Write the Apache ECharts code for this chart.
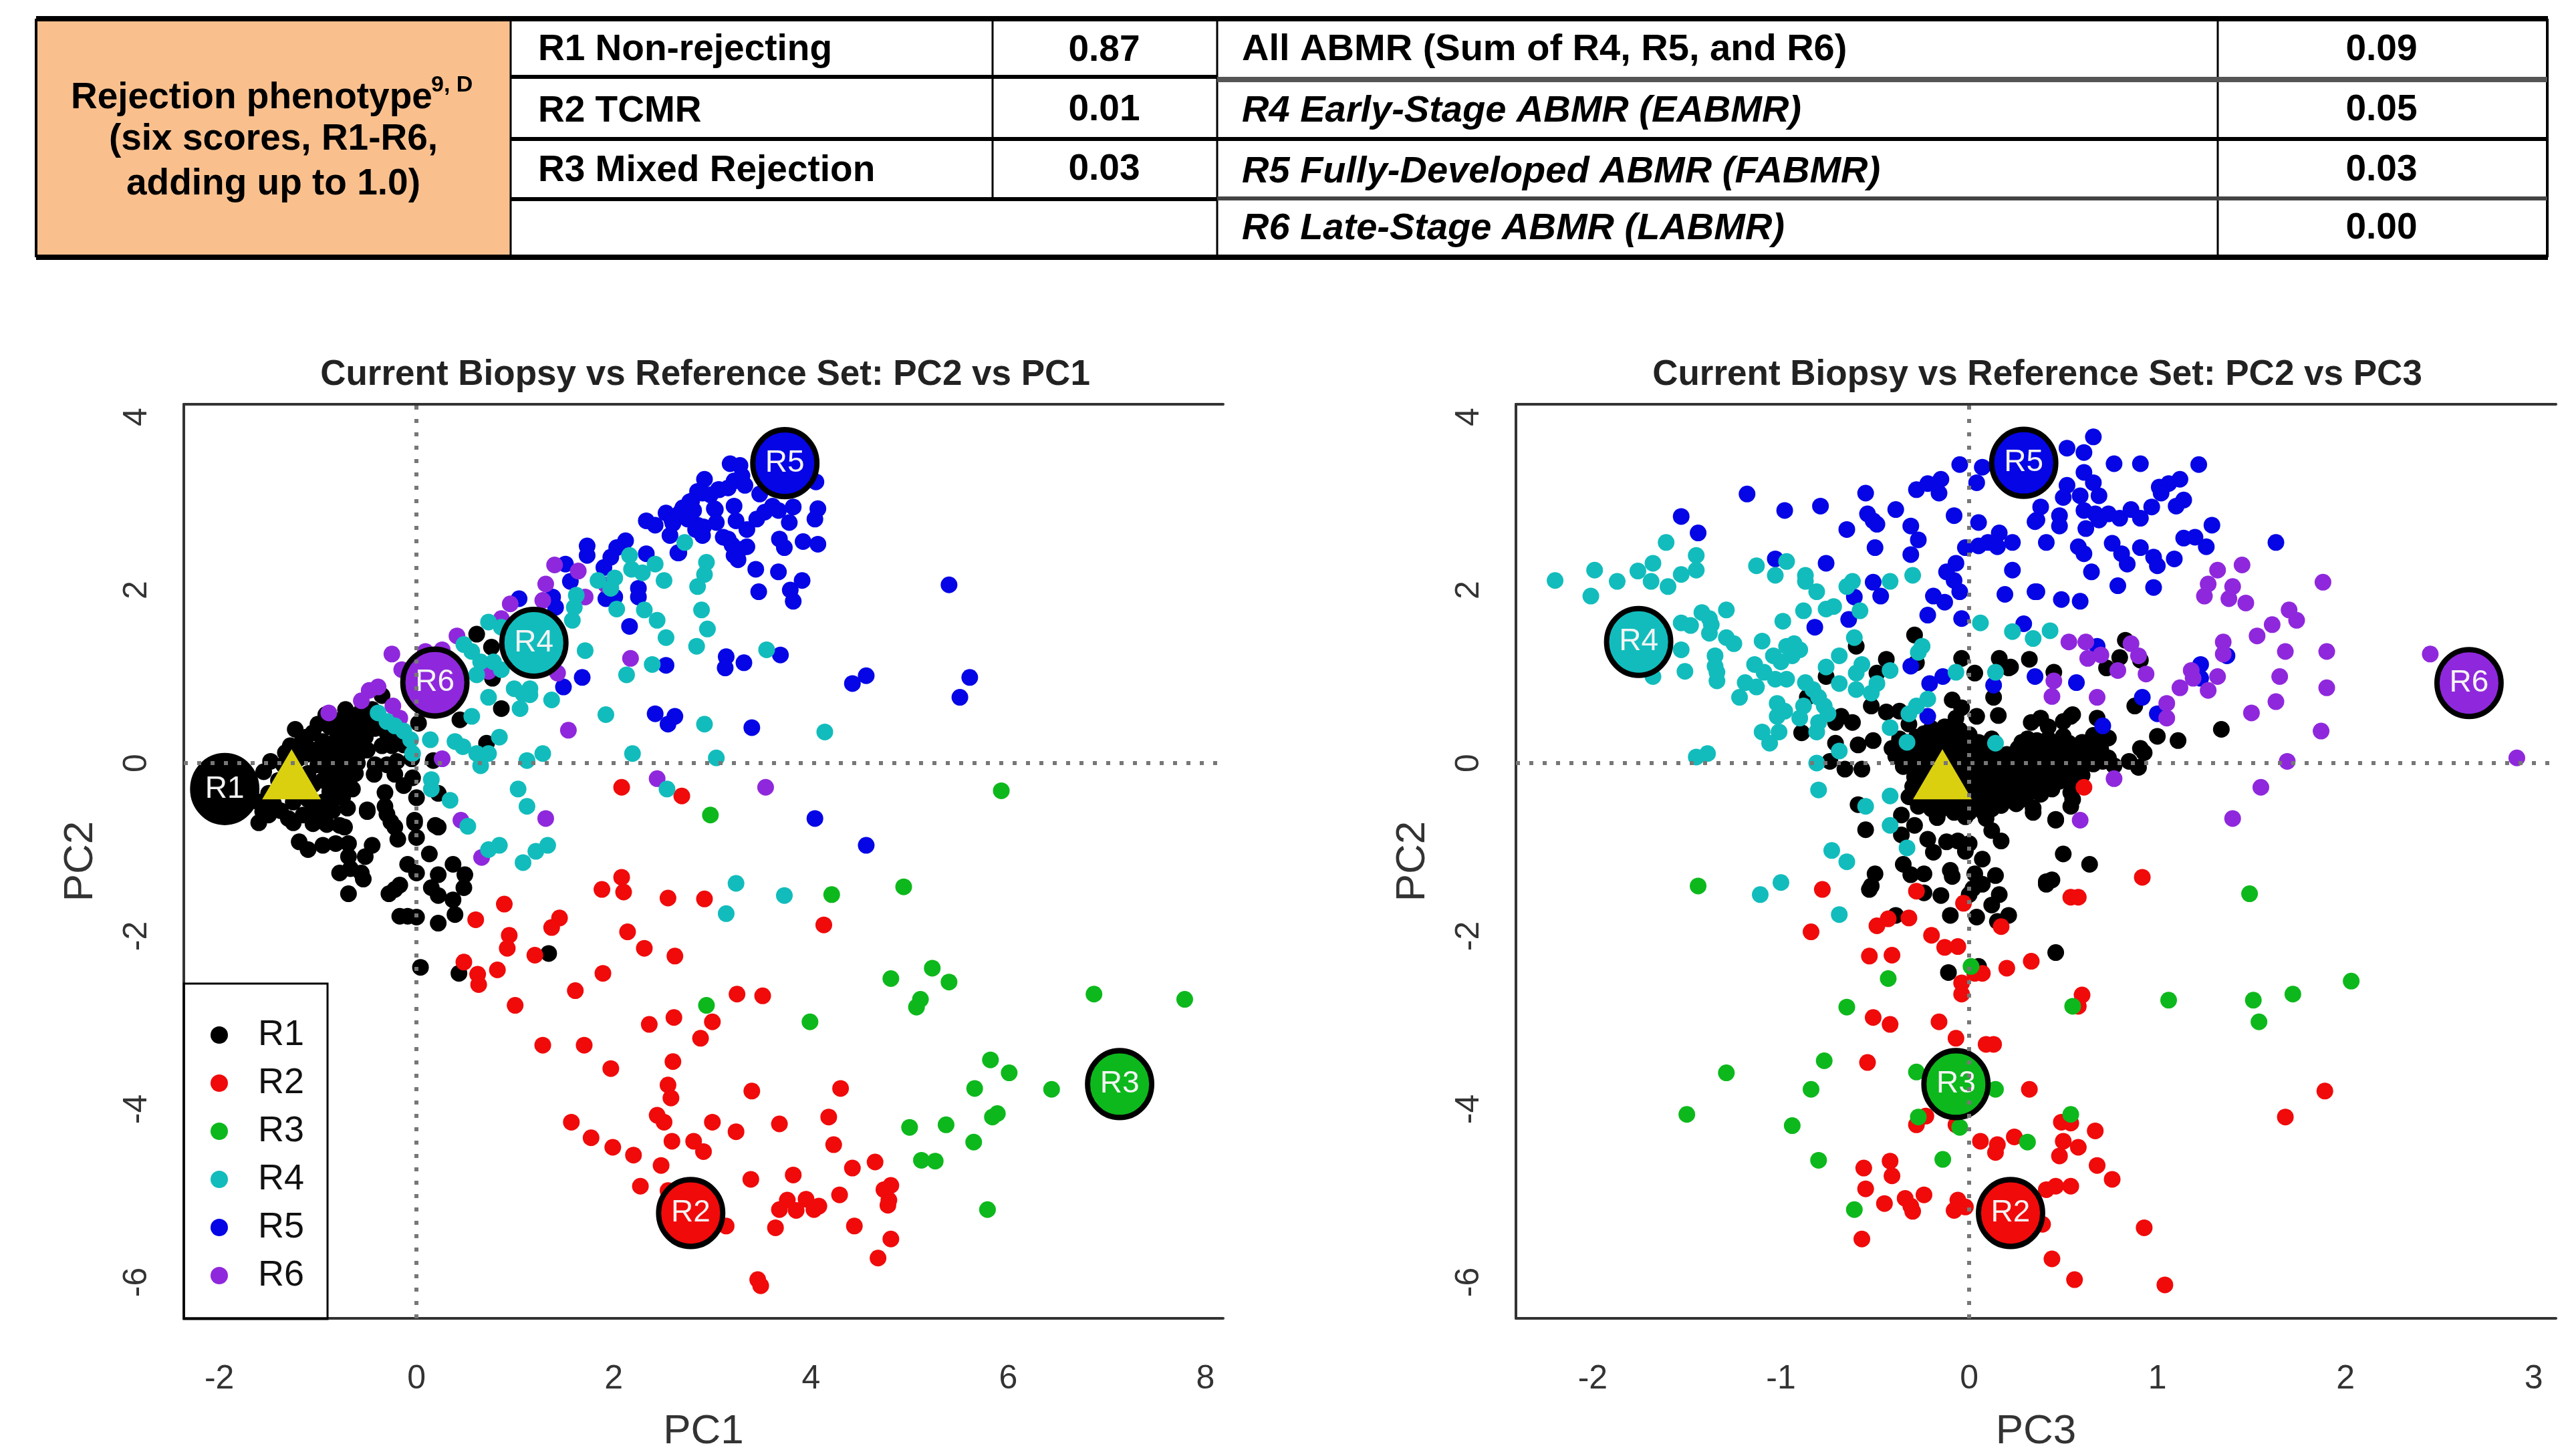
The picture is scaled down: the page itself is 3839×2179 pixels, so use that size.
<!DOCTYPE html>
<html>
<head>
<meta charset="utf-8">
<title>Rejection phenotype</title>
<style>
html,body{margin:0;padding:0;background:#fff}
#main{width:3839px;height:2179px}
</style>
<script src="https://cdn.jsdelivr.net/npm/echarts@6/dist/echarts.min.js"></script>
</head>
<body>
<div id="main"></div>
<script>
// table text
var tableTitle = ['(six scores, R1-R6,', 'adding up to 1.0)'];
var leftRows = ['R1 Non-rejecting', 'R2 TCMR', 'R3 Mixed Rejection'];
var leftScores = ['0.87', '0.01', '0.03'];
var rightRows = ['All ABMR (Sum of R4, R5, and R6)', 'R4 Early-Stage ABMR (EABMR)', 'R5 Fully-Developed ABMR (FABMR)', 'R6 Late-Stage ABMR (LABMR)'];
var rightScores = ['0.09', '0.05', '0.03', '0.00'];

// tick labels
var pc1Ticks = [-2, 0, 2, 4, 6, 8];
var pc3Ticks = [-2, -1, 0, 1, 2, 3];
var pc2Ticks = [-6, -4, -2, 0, 2, 4];

// group centres and current biopsy (no R1 centre in the second plot)
var centres1 = [['R1', -1.945, -0.30], ['R2', 2.78, -5.20], ['R3', 7.13, -3.71], ['R4', 1.19, 1.39], ['R5', 3.735, 3.466], ['R6', 0.186, 0.93]];
var centres2 = [['R2', 0.22, -5.20], ['R3', -0.07, -3.71], ['R4', -1.756, 1.40], ['R5', 0.29, 3.47], ['R6', 2.656, 0.925]];
var biopsy1 = [-1.267, -0.13];
var biopsy2 = [-0.142, -0.13];

// PC1 vs PC2
var p1R1 = [[-1.23,.39],[-1.18,.22],[-1.33,.12],[-1.05,.35],[-.92,.56],[-.88,.42],[-.95,.25],[-.8,.33],[-.72,.22],[-.66,.1],[-.6,.0],[-.78,.12],[-.9,.1],[-1.05,.15],[-1.2,.05],[-1.35,-.02],[-1.48,.02],[-1.55,-.1],[-1.4,-.2],[-1.5,-.35],[-1.6,-.45],[-1.0,-.02],[-.85,-.05],[-.72,-.08],[-1.1,-.12],[-.95,-.2],[-.8,-.2],[-.65,-.3],[-1.1,-.42],[-1.25,-.45],[-.95,-.45],[-1.38,-.55],[-1.5,-.6],[-.85,-.55],[-1.15,-.6],[-1.05,-.7],
[-1.12,.3],[-1.0,.45],[-.84,.5],[-.76,.42],[-.64,.42],[-.68,.32],[-.86,.22],[-1.12,.1],[-1.28,.2],[-.98,.08],[-.84,.04],[-.7,.02],[-.58,.12],[-.62,-.12],[-.76,-.14],[-.9,-.1],[-1.05,-.25],[-1.2,-.2],[-1.3,-.32],[-.88,-.33],[-.75,-.4],[-1.0,-.55],[-1.45,-.47],[-1.22,-.3],[-.7,-.52],[-.62,.22],[-.52,.3],[-.45,.52],[-.6,.45],
[-.7,.5],[-.62,.55],[-.52,.46],[-.45,.62],[-.35,.78],[-.55,.62],[-.72,.62],[-.42,.4],[-.3,.35],[-.35,.2],[-.58,.33],[-.5,.15],[-.25,.2],[-.42,-.02],[-.3,-.02],[-.2,.02],[-.05,.05],
[-.50,-.56],[.22,-.35],[0,-.40],[-.13,-.26],[-.32,-.34],[-.43,-.13],[-.22,-.13],[-.04,-.17],[-.32,-.50],[-.26,-.68],[-.02,-.66],[.19,-.72],[-.73,-.32],[-.69,-.17],[-.82,-.40],[-1.04,-.52],[-.78,-.72],[-.95,-.64],[-1.30,-.64],[-1.56,-.56],[.17,.03],[.71,.23],[.86,.63],[.76,1.34],[.61,1.49],[.77,.98],[.44,.50],[.02,.46],[-.13,.21],[-.19,.35],
[-1.6,-.69],[-1.19,-.91],[-1.10,-1.0],[-.95,-.95],[-.82,-.93],[-.69,-.93],[-.73,-.74],[-.91,-.71],[-1.25,-.69],[-.50,-.54],[-.30,-.59],[-.22,-.74],[-.19,-.88],[-.02,-.69],[0,-.86],[.22,-.74],[.13,-1.05],[-.45,-.95],[-.52,-1.08],[-.69,-1.08],[-.78,-1.27],[-.67,-1.22],[-.54,-1.34],[-.69,-1.51],[-.56,-1.27],[-.09,-1.17],[0,-1.27],[-.22,-1.46],[-.28,-1.51],[-.17,-1.41],[.22,-1.29],[.15,-1.44],[.22,-1.53],[.37,-1.17],[.49,-1.29],[.48,-1.44],[.37,-1.58],[.39,-1.75],[-.17,-1.77],[-.09,-1.77],[0,-1.78],[.22,-1.85],[1.34,-2.2],[.04,-2.36],[.43,-2.43]];
var p1R2 = [[2.08,-.28],[2.69,-.38],[2.08,-1.32],[1.88,-1.46],[2.10,-1.49],[2.55,-1.56],[2.92,-1.57],[.89,-1.63],[.60,-1.81],[1.45,-1.79],[1.37,-1.90],[2.14,-1.95],[2.31,-2.14],[2.62,-2.23],[.94,-1.99],[.92,-2.14],[1.20,-2.22],[.48,-2.30],[.62,-2.44],[.63,-2.56],[.82,-2.39],[1.89,-2.43],[1.61,-2.63],[1.00,-2.80],[2.61,-2.94],[2.36,-3.02],[3.00,-2.99],[2.88,-3.18],[1.28,-3.26],[1.70,-3.26],[2.60,-3.45],[1.97,-3.53],[2.55,-3.72],[2.58,-3.87],[2.44,-4.07],[2.51,-4.15],[3.00,-4.15],[1.57,-4.15],[3.24,-4.26],[1.77,-4.33],[2.59,-4.37],[2.81,-4.37],[2.91,-4.49],[1.99,-4.44],[2.20,-4.53],[2.48,-4.65],[2.27,-4.89],[2.55,-4.94],[3.14,-5.35],
[4.13,-1.87],[3.25,-2.67],[3.51,-2.69],[3.40,-3.79],[4.30,-3.76],[3.68,-4.17],[4.18,-4.09],[4.23,-4.41],[4.65,-4.61],[4.42,-4.68],[3.39,-4.81],[3.82,-4.76],[4.81,-4.88],[4.74,-4.93],[4.29,-4.99],[3.76,-5.05],[3.95,-5.04],[3.68,-5.16],[3.85,-5.17],[4.03,-5.16],[4.08,-5.12],[4.79,-5.05],[4.78,-5.11],[3.64,-5.37],[4.44,-5.35],[4.81,-5.50],[4.68,-5.72],[3.46,-5.97],[3.49,-6.04]];
var p1R3 = [[2.98,-.60],[5.93,-.32],[4.21,-1.52],[4.94,-1.43],[4.81,-2.49],[5.23,-2.37],[5.40,-2.53],[5.11,-2.73],[5.07,-2.82],[6.87,-2.67],[7.79,-2.73],[2.94,-2.80],[3.99,-2.99],[5.82,-3.43],[6.01,-3.58],[5.66,-3.76],[6.44,-3.77],[5.89,-4.05],[5.84,-4.09],[5.37,-4.18],[5.00,-4.21],[5.65,-4.38],[5.12,-4.59],[5.26,-4.60],[5.79,-5.16]];
var p1R4 = [[2.16,2.40],[2.18,2.24],[2.42,2.30],[2.51,2.11],[1.84,2.11],[2.01,2.14],[1.97,2.02],[2.29,2.20],[2.72,2.55],[2.94,2.32],[2.92,2.18],[2.85,2.04],[2.31,1.77],[2.03,1.78],[1.62,1.94],[1.60,1.80],[1.58,1.65],[2.44,1.65],[2.53,1.45],[2.89,1.77],[2.95,1.55],[2.84,1.35],[1.71,1.30],[2.39,1.14],[2.13,1.02],[.73,1.63],[.86,1.57],[.48,1.37],[.56,1.29],[.65,1.17],[.78,1.17],[.61,1.02],[.86,1.08],[.99,.86],[1.15,.86],[1.08,.80],[.73,.76],[1.15,.79],[1.37,.73],[1.05,.63],[.56,.54],[1.92,.56],[2.92,.45],[-.39,.58],[-.30,.48],[-.22,.43],[-.13,.37],[-.06,.27],[-.04,.11],[.14,.27],[.39,.25],[.47,.19],[.84,.30],[.61,.11],[.73,.11],[.65,-.03],[1.12,.03],[1.28,.11],[2.19,.11],[3.04,.06],[.15,-.19],[.15,-.30],[1.03,-.30],[1.12,-.50],[2.54,-.30],[.34,-.43],[.52,-.73],[.73,-1.0],[.84,-.95],[1.08,-1.15],[1.21,-1.02],[1.33,-.95],[3.24,-1.39],[3.14,-1.74],[3.55,1.31],[4.14,.36],[3.73,-1.53]];
var p1R5 = [[2.33,2.80],[2.42,2.75],[2.53,2.89],[2.59,2.81],[2.57,2.63],[2.66,2.43],[2.70,2.95],[2.79,3.03],[2.77,2.83],[2.85,2.75],[2.90,2.63],[2.92,3.28],[2.90,3.12],[2.98,3.10],[3.03,2.93],[3.07,3.16],[3.18,3.46],[3.22,3.26],[3.16,2.59],[3.22,2.40],[1.73,2.51],[1.73,2.40],[2.12,2.57],[2.03,2.49],[1.97,2.38],[1.90,2.26],[2.33,2.42],[1.51,2.30],[1.56,2.10],[2.25,2.02],[2.25,1.92],[2.01,1.92],[1.92,1.90],[1.38,1.92],[1.04,1.90],[1.41,1.80],[2.16,1.58],[2.53,1.13],[1.49,.88],[1.68,.99],[2.42,.57],[2.62,.54],[2.55,.45],
[3.28,3.44],[3.30,3.32],[3.33,3.21],[3.06,3.16],[3.16,3.18],[2.85,3.14],[2.77,3.02],[2.67,2.89],[2.81,2.92],[2.60,2.77],[2.75,2.82],[3.02,2.94],[3.04,2.78],[2.91,2.73],[2.83,2.70],[3.22,2.97],[3.48,3.11],[4.05,3.25],[3.24,2.80],[3.35,2.70],[3.45,2.82],[3.53,2.90],[3.61,2.97],[3.67,2.92],[3.82,2.96],[3.78,2.78],[4.07,2.94],[4.04,2.82],[3.11,2.61],[3.20,2.52],[3.35,2.50],[3.28,2.47],[3.26,2.35],[3.68,2.59],[3.73,2.49],[3.92,2.56],[4.07,2.53],[2.65,2.43],[3.44,2.24],[3.67,2.21],[3.91,2.11],[3.79,2.0],[3.47,1.98],[3.82,1.87],[5.40,2.06],[3.14,1.23],[3.13,1.10],[3.32,1.16],[3.69,1.25],[4.56,1.01],[4.42,.92],[5.61,.99],[5.51,.76],[3.40,.41],[4.04,-.64],[4.56,-.95]];
var p1R6 = [[1.40,2.29],[1.64,2.22],[1.31,2.07],[1.28,1.88],[1.92,2.06],[1.71,1.92],[.95,1.84],[.86,1.67],[.41,1.47],[-.25,1.26],[-.15,1.08],[.09,1.29],[.26,1.31],[.73,1.06],[1.43,1.04],[-.39,.88],[-.48,.84],[-.56,.72],[-.24,.66],[-.17,.52],[-.89,.58],[2.17,1.21],[1.54,.38],[.26,.05],[2.44,-.18],[.45,-.66],[1.31,-.64],[.66,-1.09],[3.54,-.28]];

// PC3 vs PC2
var p2R1 = [[-.29,1.48],[-.60,1.35],[-.44,1.20],[-.04,1.21],[.03,1.04],[.16,1.21],[.21,1.10],[.32,1.20],[-.28,1.16],[-.76,1.0],[-.86,.76],[-.49,1.04],[-.89,.35],[.13,.76],[.155,.55],[-.09,.73],[-.04,.64],[-.07,.52],[.04,.54],[-.37,.60],[-.32,.45],[-.52,.66],[-.44,.59],[-.68,.54],[-.62,.47],[-.71,.47],[-.51,.26],[-.59,.21],[-.66,-.07],[-.57,-.07],[-.74,.02],[-.71,.23],[-.59,-.48],[-.55,-.77],
[1.34,.39],[1.11,.26],[1.0,.31],[.91,.17],[.93,.12],[.90,-.05],[.85,.02],[.77,-.03],[.83,1.42],[.22,1.11],[.45,1.05],[.80,1.22],[.73,1.10],[.91,1.19],[.88,.66],[.54,.54],[.38,.52],[.33,.47],[.68,.52],[.54,-.34],[.54,-.5],[.34,-.57],[.46,-.65],
[-.2,.40],[-.13,.42],[-.05,.38],[-.37,.28],[-.28,.30],[-.2,.27],[-.11,.31],[-.04,.29],[.05,.24],[.12,.28],[-.41,.17],[-.33,.19],[-.24,.15],[-.16,.2],[-.07,.16],[.01,.18],[.09,.14],[-.39,.08],[-.3,.05],[-.21,.09],[-.13,.07],[-.05,.04],[.03,.1],[.11,.06],[-.35,-.04],[-.26,-.02],[-.18,-.05],[-.1,-.01],[-.02,-.07],[.06,-.03],[.14,-.05],[.2,-.02],[-.29,-.16],[-.2,-.13],[-.12,-.18],[-.03,-.14],[.05,-.17],[.13,-.12],[.21,-.16],[.28,-.13],[-.3,-.27],[-.22,-.3],[-.14,-.25],[-.06,-.29],[.03,-.26],[.1,-.31],[.18,-.26],[.26,-.29],[.34,-.24],[-.32,-.39],[-.24,-.37],[-.16,-.41],[-.08,-.38],[0,-.42],[.08,-.38],[.16,-.4],[.24,-.36],[.3,-.41],[-.27,-.5],[-.2,-.53],[-.12,-.49],[-.04,-.54],[.04,-.5],[.12,-.53],[-.17,-.63],[-.02,-.62],[.09,-.64],[.17,-.49],[.25,-.47],[.34,-.52],
[-.24,.34],[-.16,.34],[-.08,.34],[0,.33],[-.33,.24],[-.24,.22],[-.16,.25],[-.07,.23],[.02,.21],[.09,.2],[-.35,.13],[-.27,.12],[-.18,.12],[-.1,.13],[-.01,.12],[.07,.09],[.15,.11],[-.31,0],[-.22,.01],[-.14,0],[-.06,-.02],[.02,.02],[.1,0],[.18,.03],[-.24,-.09],[-.15,-.1],[-.07,-.09],[.01,-.1],[.09,-.09],[.17,-.09],[.25,-.07],[-.25,-.21],[-.17,-.23],[-.09,-.21],[-.01,-.22],[.07,-.21],[.15,-.2],[.24,-.21],[.31,-.19],[-.27,-.33],[-.19,-.34],[-.11,-.33],[-.03,-.33],[.06,-.33],[.14,-.33],[.21,-.33],[.3,-.33],[.38,-.36],[-.22,-.45],[-.14,-.45],[-.06,-.45],[.02,-.46],[.1,-.45],[.19,-.44],[.27,-.43],[-.28,-.43],[-.16,-.56],[-.08,-.57],[0,-.57],[.08,-.58],
[.28,.24],[.36,.26],[.42,.28],[.5,.31],[.26,.17],[.33,.19],[.41,.16],[.48,.2],[.56,.17],[.64,.19],[.70,.22],[.2,.1],[.28,.07],[.36,.11],[.44,.08],[.52,.1],[.6,.07],[.68,.1],[.74,.06],[.18,-.01],[.26,-.04],[.34,0],[.42,-.03],[.5,.01],[.58,-.03],[.66,-.01],[.22,-.11],[.3,-.14],[.38,-.1],[.46,-.13],[.54,-.1],[.6,-.14],[.32,-.22],[.4,-.25],[.48,-.21],[.55,-.24],[.36,-.32],[.44,-.3],[.66,.32],[.74,.29],[.42,.42],[.5,.48],[.55,.56],
[.3,.13],[.38,.13],[.46,.14],[.54,.13],[.62,.13],[.7,.15],[.24,.03],[.31,.03],[.39,.04],[.47,.05],[.55,.04],[.63,.03],[.71,.02],[.26,-.09],[.34,-.07],[.42,-.08],[.5,-.07],[.58,-.07],[.36,-.17],[.44,-.17],[.52,-.16],[.38,.22],[.45,.22],[.53,.23],[.6,.24],[.31,.28],
[-.36,-.6],[-.29,-.72],[-.36,-.83],[-.22,-.88],[-.19,-1.03],[-.12,-.91],[-.06,-.9],[0,-.93],[-.02,-1.02],[.07,-1.11],[.17,-.9],[.12,-.78],[.46,-.66],[.55,-.42],[-.35,-1.17],[-.31,-1.29],[-.24,-1.28],[-.10,-1.24],[-.09,-1.31],[.03,-1.28],[.14,-1.3],[-.50,-1.28],[-.52,-1.42],[-.24,-1.5],[-.15,-1.53],[.02,-1.45],[.07,-1.4],[0,-1.52],[.16,-1.52],[.12,-1.64],[.50,-1.05],[.64,-1.17],[.44,-1.35],[.41,-1.40],[-.39,-1.76],[-.10,-1.76],[.04,-1.78],[.21,-1.76],[.15,-1.83],[-.53,-1.46],[.41,-1.37],[.46,-2.19],[-.11,-2.42],[.05,-2.35]];
var p2R2 = [[.61,-.28],[-.78,-1.46],[-.28,-1.48],[-.03,-1.62],[.92,-1.32],[.54,-1.55],[.58,-1.55],[-.84,-1.95],[-.49,-1.88],[-.43,-1.80],[-.32,-1.79],[.17,-1.89],[-.2,-1.99],[-.13,-2.13],[-.06,-2.12],[-.53,-2.23],[-.41,-2.22],[.33,-2.29],[.2,-2.37],[.07,-2.43],[.03,-2.43],[-.04,-2.54],[-.04,-2.67],[.60,-2.68],[.58,-2.81],[-.51,-2.94],[-.42,-3.02],[-.16,-2.99],[-.07,-3.18],[.09,-3.25],[.13,-3.25],[-.54,-3.46],[.32,-3.77],[1.89,-3.79],[1.68,-4.09],[-.23,-4.08],[-.28,-4.18],[-.07,-4.18],[.49,-4.15],[.54,-4.16],[.67,-4.25],[.06,-4.37],[.24,-4.32],[.15,-4.41],[.14,-4.50],[.50,-4.37],[.58,-4.44],[.48,-4.54],[-.42,-4.60],[-.56,-4.68],[-.41,-4.77],[.68,-4.65],[.76,-4.81],[-.55,-4.92],[.41,-4.93],[.46,-4.89],[.54,-4.89],[-.24,-4.99],[-.34,-5.03],[-.45,-5.09],[-.31,-5.12],[-.30,-5.18],[-.06,-5.05],[-.02,-5.13],[-.08,-5.17],[.39,-5.33],[.93,-5.37],[-.57,-5.50],[.44,-5.73],[.56,-5.97],[1.04,-6.03]];
var p2R3 = [[-1.44,-1.42],[1.49,-1.51],[.01,-2.35],[-.43,-2.49],[2.03,-2.52],[1.72,-2.67],[1.06,-2.74],[1.51,-2.74],[.55,-2.81],[-.65,-2.82],[1.54,-2.99],[-.77,-3.44],[-1.29,-3.58],[-.28,-3.57],[.14,-3.77],[-.84,-3.77],[-1.50,-4.06],[-.94,-4.19],[.54,-4.06],[-.27,-4.09],[-.05,-4.21],[.31,-4.38],[-.80,-4.59],[-.14,-4.58],[-.61,-5.16]];
var p2R4 = [[-2.20,2.11],[-1.99,2.23],[-2.01,1.93],[-1.87,2.10],[-1.76,2.22],[-1.68,2.31],[-1.69,2.10],[-1.60,2.04],[-1.61,2.55],[-1.45,2.40],[-1.45,2.23],[-1.53,2.18],[-1.13,2.28],[-.97,2.33],[-1.03,2.17],[-.87,2.17],[-.87,2.10],[-.81,1.98],[-.62,2.10],[-.65,2.04],[-.42,2.10],[-.30,2.17],[-.88,1.76],[-.76,1.78],[-.72,1.81],[-.58,1.76],[-.99,1.64],[.06,1.62],[.23,1.52],[.34,1.44],[.43,1.53],
[-1.53,1.62],[-1.48,1.59],[-1.42,1.74],[-1.38,1.67],[-1.37,1.60],[-1.38,1.50],[-1.29,1.77],[-1.29,1.45],[-1.25,1.38],[-1.53,1.31],[-1.51,1.06],[-1.68,1.0],[-1.35,1.24],[-1.35,1.12],[-1.34,1.05],[-1.34,.95],[-1.10,1.41],[-1.04,1.24],[-1.0,1.17],[-.97,1.35],[-.93,1.38],[-.90,1.31],[-.94,1.24],[-1.14,1.14],[-1.09,1.05],[-1.03,.97],[-.97,.97],[-1.19,.93],[-1.13,.88],[-1.22,.76],
[-.69,1.24],[-.76,1.11],[-.57,1.14],[-.60,1.04],[-.69,.92],[-.60,.85],[-.52,.81],[-.49,.92],[-.87,.93],[-.83,.85],[-.80,.76],[-.77,.66],[-.75,.57],[-.88,.66],[-.90,.52],[-.80,.47],[-.81,.36],[-1.02,.69],[-.98,.60],[-1.02,.54],[-1.10,.36],[-1.01,.36],[-1.06,.23],[-1.39,.11],[-1.45,.07],[-.81,0],[-.69,.14],[-.80,-.31],[-.61,1.45],[-.25,1.35],[-.27,1.28],[-.42,1.07],[-.07,1.05],[.14,1.05],[-.22,.74],[-.28,.66],[-.32,.57],[-.42,.41],[-.33,.24],[.14,.23],[-.55,-.50],[-.42,-.38],[-.42,-.72],[-.33,-.98],[-.73,-1.01],[-.65,-1.14],[-1.0,-1.38],[-1.11,-1.52],[-.69,-1.75]];
var p2R5 = [[-1.18,3.11],[-.98,2.92],[-.79,2.97],[-.55,3.12],[-1.53,2.85],[-1.44,2.66],[-.54,2.88],[-.51,2.80],[-.49,2.76],[-.65,2.70],[-.39,2.93],[-.28,3.16],[-.22,3.23],[-.15,3.28],[-.16,3.12],[-.05,3.45],[.07,3.42],[.04,3.24],[-.08,2.86],[.05,2.78],[-.31,2.74],[-.27,2.58],[-.50,2.49],[-.31,2.41],[-.02,2.49],[.05,2.51],[.10,2.55],[.16,2.66],[.15,2.50],[.23,2.55],[-1.03,2.36],[-.76,2.31],[-.07,2.31],[-.12,2.21],[-.08,2.11],[-.05,1.98],[.23,2.23],[-.51,2.09],[-.47,1.93],[-.61,1.92],[-.19,1.93],[-.13,1.86],[.19,1.95],[-.22,1.71],[-.04,1.67],[-.64,1.66],[-.82,1.57],[.29,1.61],[-.31,1.12],[-.21,.92],[-.14,1.0],[.13,.90],[.35,1.0],[-.22,.54],[.36,2.81],[.35,1.98],
[.66,3.77],[.52,3.64],[.61,3.59],[.77,3.46],[.91,3.46],[1.22,3.45],[.61,3.36],[.66,3.24],[.52,3.21],[.50,3.07],[.59,3.09],[.69,3.09],[1.12,3.28],[1.06,3.23],[1.01,3.19],[1.02,3.12],[1.14,3.04],[1.10,2.97],[.97,2.96],[.38,2.96],[.35,2.79],[.48,2.86],[.48,2.74],[.61,2.92],[.67,2.88],[.74,2.88],[.80,2.83],[.86,2.93],[.91,2.83],[.69,2.81],[.62,2.71],[1.29,2.75],[1.14,2.60],[1.20,2.61],[1.26,2.50],[1.63,2.55],[.41,2.55],[.58,2.50],[.61,2.42],[.76,2.54],[.81,2.42],[.84,2.30],[.91,2.49],[.98,2.38],[1.0,2.28],[1.09,2.36],[.65,2.21],[.79,2.05],[.98,2.03],[.36,1.98],[.49,1.89],[.59,1.87],[.68,1.35],[1.37,1.24],[1.23,1.14],[1.23,.98],[.57,.93],[.92,.76],[1.0,.57],[.71,.43]];
var p2R6 = [[1.32,2.23],[1.45,2.29],[1.88,2.09],[1.27,2.07],[1.40,2.04],[1.25,1.93],[1.38,1.90],[1.47,1.85],[1.70,1.77],[1.74,1.65],[1.61,1.60],[1.53,1.47],[.53,1.40],[.62,1.40],[.86,1.38],[1.35,1.40],[1.35,1.26],[1.68,1.29],[1.90,1.29],[2.45,1.26],[.63,1.21],[.70,1.25],[.90,1.24],[.79,1.07],[.94,1.03],[1.18,1.07],[1.19,.98],[1.32,1.0],[1.65,1.0],[.45,.95],[.44,.77],[.68,.76],[1.12,.87],[1.27,.84],[1.90,.87],[1.63,.71],[1.05,.69],[1.05,.52],[1.50,.58],[1.87,.37],[1.69,.02],[2.91,.06],[.77,-.18],[1.55,-.28],[1.40,-.64],[.59,-.66]];

var colors = {R1: '#000000', R2: '#f00a0a', R3: '#0db81c', R4: '#12bcbc', R5: '#0505e6', R6: '#8f28dc'};
var font = '"Liberation Sans", Arial, sans-serif';
var chart = echarts.init(document.getElementById('main'));

function pointSeries(name, data, xIdx, yIdx) {
	return {
		name: name,
		type: 'scatter',
		xAxisIndex: xIdx,
		yAxisIndex: yIdx,
		data: data,
		z: 2,
		silent: true,
		symbol: 'circle',
		symbolSize: 25,
		itemStyle: {color: colors[name], opacity: 1}
	};
}

// dotted lines through zero, kept under the points
function zeroSeries(xIdx, yIdx) {
	return {
		type: 'scatter',
		xAxisIndex: xIdx,
		yAxisIndex: yIdx,
		data: [],
		z: 1,
		silent: true,
		markLine: {
			silent: true,
			symbol: 'none',
			animation: false,
			label: {show: false},
			lineStyle: {color: '#777', width: 6, type: [6, 14]},
			data: [{xAxis: 0}, {yAxis: 0}]
		}
	};
}

function centreSeries(list, xIdx, yIdx) {
	var items = [];
	for (var i = 0; i < list.length; i++) {
		items.push({
			name: list[i][0],
			value: [list[i][1], list[i][2]],
			itemStyle: {color: colors[list[i][0]]}
		});
	}
	return {
		type: 'scatter',
		xAxisIndex: xIdx,
		yAxisIndex: yIdx,
		data: items,
		z: 3,
		silent: true,
		symbol: 'circle',
		symbolSize: [96, 100],
		itemStyle: {borderColor: '#000', borderWidth: 8, opacity: 1},
		label: {
			show: true,
			position: 'inside',
			formatter: '{b}',
			color: '#f4f4f4',
			fontFamily: font,
			fontSize: 46
		}
	};
}

function biopsySeries(point, xIdx, yIdx) {
	return {
		type: 'scatter',
		xAxisIndex: xIdx,
		yAxisIndex: yIdx,
		data: [point],
		z: 4,
		silent: true,
		symbol: 'triangle',
		symbolSize: [88, 75],
		itemStyle: {color: '#dbd010', opacity: 1}
	};
}

function bottomAxis(gridIdx, min, max, ticks, name) {
	return {
		type: 'value',
		gridIndex: gridIdx,
		position: 'bottom',
		min: min,
		max: max,
		name: name,
		nameLocation: 'middle',
		nameGap: 139,
		nameTextStyle: {fontFamily: font, fontSize: 62, color: '#333'},
		axisLine: {show: true, onZero: false, lineStyle: {color: '#333', width: 4}},
		axisTick: {show: false},
		splitLine: {show: false},
		axisLabel: {customValues: ticks, margin: 66, color: '#333', fontFamily: font, fontSize: 50}
	};
}

function topAxis(gridIdx, min, max) {
	return {
		type: 'value',
		gridIndex: gridIdx,
		position: 'top',
		min: min,
		max: max,
		axisLine: {show: true, onZero: false, lineStyle: {color: '#333', width: 4}},
		axisTick: {show: false},
		splitLine: {show: false},
		axisLabel: {show: false}
	};
}

function leftAxis(gridIdx) {
	return {
		type: 'value',
		gridIndex: gridIdx,
		min: -6.417,
		max: 4.147,
		name: 'PC2',
		nameLocation: 'middle',
		nameGap: 123,
		nameTextStyle: {fontFamily: font, fontSize: 62, color: '#333'},
		axisLine: {show: true, onZero: false, lineStyle: {color: '#333', width: 4}},
		axisTick: {show: false},
		splitLine: {show: false},
		axisLabel: {customValues: pc2Ticks, rotate: 90, margin: 45, color: '#333', fontFamily: font, fontSize: 50}
	};
}

// table at the top of the page
function tableText(text, x, y, extra) {
	var style = {text: text, x: x, y: y, fill: '#000', font: 'bold 55px ' + font, textVerticalAlign: 'middle', textAlign: 'left'};
	for (var k in extra) style[k] = extra[k];
	return {type: 'text', z: 10, style: style};
}
function tableLine(x1, y1, x2, y2, w, c) {
	return {type: 'line', z: 11, shape: {x1: x1, y1: y1, x2: x2, y2: y2}, style: {stroke: c || '#000', lineWidth: w}};
}
function buildTable() {
	var els = [];
	var leftY = [75, 167, 256];
	var leftValY = [76, 165, 254];
	var rightY = [75, 167, 258, 343];
	var rightValY = [75, 165, 255, 342];
	els.push({type: 'rect', z: 9, shape: {x: 54, y: 28, width: 710, height: 357}, style: {fill: '#f9c08e'}});
	els.push(tableText('Rejection phenotype', 106, 147));
	els.push(tableText('9, D', 645, 128, {font: 'bold 34px ' + font}));
	els.push(tableText(tableTitle[0], 409, 209, {textAlign: 'center'}));
	els.push(tableText(tableTitle[1], 409, 276, {textAlign: 'center'}));
	for (var i = 0; i < leftRows.length; i++) {
		els.push(tableText(leftRows[i], 805, leftY[i]));
		els.push(tableText(leftScores[i], 1652, leftValY[i], {textAlign: 'center'}));
	}
	for (var j = 0; j < rightRows.length; j++) {
		els.push(tableText(rightRows[j], 1858, rightY[j], {font: (j > 0 ? 'italic ' : '') + 'bold 56px ' + font}));
		els.push(tableText(rightScores[j], 3563, rightValY[j], {textAlign: 'center'}));
	}
	els.push(tableLine(54, 28, 3812, 28, 8));
	els.push(tableLine(54, 385, 3812, 385, 8));
	els.push(tableLine(54, 28, 54, 385, 4));
	els.push(tableLine(3811, 28, 3811, 385, 4));
	els.push(tableLine(764, 28, 764, 385, 3));
	els.push(tableLine(1485, 28, 1485, 298, 3));
	els.push(tableLine(1821, 28, 1821, 385, 3));
	els.push(tableLine(3318, 28, 3318, 385, 3));
	els.push(tableLine(764, 115, 1821, 115, 6));
	els.push(tableLine(764, 208, 1821, 208, 6));
	els.push(tableLine(764, 298, 1821, 298, 6));
	els.push(tableLine(1821, 119, 3811, 119, 8, '#555'));
	els.push(tableLine(1821, 208, 3811, 208, 6));
	els.push(tableLine(1821, 297, 3811, 297, 6, '#444'));
	return els;
}

var option = {
	backgroundColor: '#fff',
	animation: false,
	title: [
		{text: 'Current Biopsy vs Reference Set: PC2 vs PC1', left: 1050, top: 530, textAlign: 'center', textStyle: {fontFamily: font, fontSize: 53, fontWeight: 'bold', color: '#222'}},
		{text: 'Current Biopsy vs Reference Set: PC2 vs PC3', left: 3043, top: 530, textAlign: 'center', textStyle: {fontFamily: font, fontSize: 53, fontWeight: 'bold', color: '#222'}}
	],
	grid: [
		{left: 275, top: 605, width: 1555, height: 1368},
		{left: 2268, top: 605, width: 1556, height: 1368}
	],
	xAxis: [
		bottomAxis(0, -2.36, 8.18, pc1Ticks, 'PC1'),
		topAxis(0, -2.36, 8.18),
		bottomAxis(1, -2.408, 3.118, pc3Ticks, 'PC3'),
		topAxis(1, -2.408, 3.118)
	],
	yAxis: [leftAxis(0), leftAxis(1)],
	legend: {
		data: ['R1', 'R2', 'R3', 'R4', 'R5', 'R6'],
		orient: 'vertical',
		left: 275,
		top: 1472,
		padding: [50, 35, 38, 40],
		itemWidth: 26,
		itemHeight: 26,
		itemGap: 18,
		icon: 'circle',
		selectedMode: false,
		borderColor: '#000',
		borderWidth: 3,
		textStyle: {fontFamily: font, fontSize: 54, color: '#111', padding: [0, 0, 0, 40]}
	},
	graphic: {elements: buildTable()},
	series: [
		zeroSeries(0, 0),
		pointSeries('R1', p1R1, 0, 0),
		pointSeries('R2', p1R2, 0, 0),
		pointSeries('R3', p1R3, 0, 0),
		pointSeries('R5', p1R5, 0, 0),
		pointSeries('R6', p1R6, 0, 0),
		pointSeries('R4', p1R4, 0, 0),
		centreSeries(centres1, 0, 0),
		biopsySeries(biopsy1, 0, 0),
		zeroSeries(2, 1),
		pointSeries('R1', p2R1, 2, 1),
		pointSeries('R2', p2R2, 2, 1),
		pointSeries('R3', p2R3, 2, 1),
		pointSeries('R5', p2R5, 2, 1),
		pointSeries('R6', p2R6, 2, 1),
		pointSeries('R4', p2R4, 2, 1),
		centreSeries(centres2, 2, 1),
		biopsySeries(biopsy2, 2, 1)
	]
};
chart.setOption(option);
</script>
</body>
</html>
